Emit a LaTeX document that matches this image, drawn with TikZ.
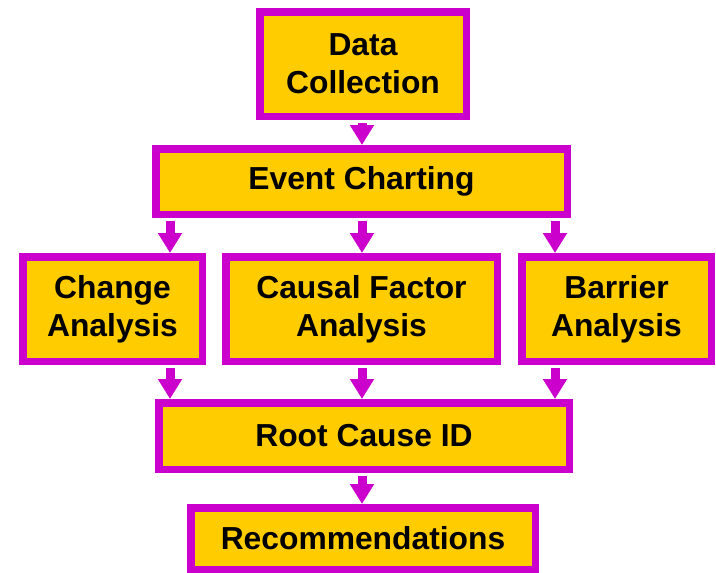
\documentclass[tikz,border=0pt]{standalone}
\usepackage{fontspec}
\setmainfont{Liberation Sans}
\usetikzlibrary{arrows.meta}
\definecolor{boxfill}{HTML}{FFCC00}
\definecolor{boxline}{HTML}{CC00CC}

\begin{document}
\begin{tikzpicture}[x=1pt, y=-1pt,
        stagebox/.style={draw=boxline, fill=boxfill, line width=7.5pt, inner sep=0pt,
            align=center, font=\bfseries\fontsize{31.8}{38}\selectfont},
        flow/.style={draw=boxline, line width=9pt, shorten <=3pt,
            -{Triangle[length=20pt, width=23pt]}}]
        \useasboundingbox (0, 0) rectangle (716, 573);

        \node (data)[stagebox, minimum width=206.5pt, minimum height=104.5pt] at (363, 64) {Data\\Collection};
        \node (event)[stagebox, minimum width=411.5pt, minimum height=65.5pt] at (361.5, 181.5) {Event Charting};
        \node (change)[stagebox, minimum width=179.5pt, minimum height=104.5pt] at (112.5, 309) {Change\\Analysis};
        \node (causal)[stagebox, minimum width=271.5pt, minimum height=104.5pt] at (361.5, 309) {Causal Factor\\Analysis};
        \node (barrier)[stagebox, minimum width=189.5pt, minimum height=104.5pt] at (616.5, 309) {Barrier\\Analysis};
        \node (root)[stagebox, minimum width=410.5pt, minimum height=66.5pt] at (364, 436) {Root Cause ID};
        \node (recs)[stagebox, minimum width=344.5pt, minimum height=61.5pt] at (363, 538.5) {Recommendations};

        \coordinate (colL) at (170, 0);
        \coordinate (colM) at (362, 0);
        \coordinate (colR) at (555, 0);

        \draw[flow] (data.south -| colM) -- (event.north -| colM);
        \draw[flow] (event.south -| colL) -- (change.north -| colL);
        \draw[flow] (event.south -| colM) -- (causal.north -| colM);
        \draw[flow] (event.south -| colR) -- (barrier.north -| colR);
        \draw[flow] (change.south -| colL) -- (root.north -| colL);
        \draw[flow] (causal.south -| colM) -- (root.north -| colM);
        \draw[flow] (barrier.south -| colR) -- (root.north -| colR);
        \draw[flow] (root.south -| colM) -- (recs.north -| colM);
    \end{tikzpicture}
\end{document}
